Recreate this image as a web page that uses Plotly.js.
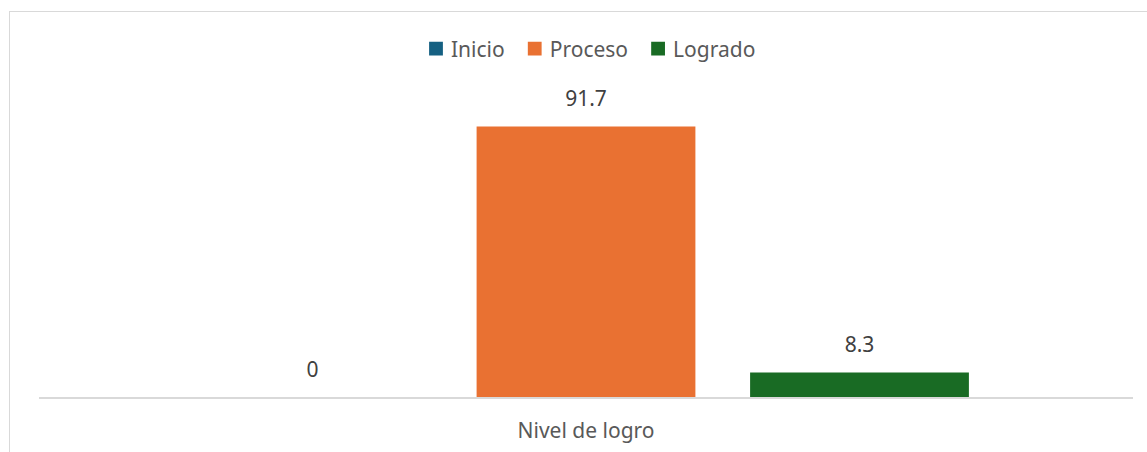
<!DOCTYPE html>
<html><head><meta charset="utf-8">
<script src="https://cdn.plot.ly/plotly-3.0.1.min.js"></script>
<style>
html,body{margin:0;padding:0;background:#fff;}
#wrap{position:relative;width:1147px;height:452px;overflow:hidden;}
#frame{position:absolute;left:9px;top:11px;width:1160px;height:470px;border:1px solid #d9d9d9;box-sizing:border-box;}
#chart{position:absolute;left:0;top:0;width:1147px;height:452px;}
</style></head>
<body><div id="wrap"><div id="frame"></div><div id="chart"></div></div>
<script>
const categories = ["Nivel de logro"];
const seriesNames = ["Inicio", "Proceso", "Logrado"];
const inicio = [0];
const proceso = [91.7];
const logrado = [8.3];
const colors = ["#156082", "#E97132", "#196B24"];
const values = [inicio, proceso, logrado];

const font = "Noto Sans, Open Sans, sans-serif";
const labelLift = 3.8; // extra gap (axis units) between bar end and its value label
const traces = [];
seriesNames.forEach((n, i) => {
  traces.push({
    type: "bar", name: n, x: categories, y: values[i], offsetgroup: "g" + i,
    marker: {color: colors[i]}, hoverinfo: "skip"
  });
});
seriesNames.forEach((n, i) => {
  traces.push({
    type: "bar", name: n + " label", x: categories, y: values[i], base: labelLift,
    offsetgroup: "g" + i, showlegend: false,
    marker: {color: "rgba(0,0,0,0)"},
    text: values[i].map(v => String(v)),
    textposition: "outside", cliponaxis: false,
    textfont: {family: font, size: 21, color: "#404040"},
    hoverinfo: "skip"
  });
});

const layout = {
  width: 1147, height: 452,
  margin: {l: 39, r: 14, t: 102, b: 55},
  paper_bgcolor: "rgba(0,0,0,0)", plot_bgcolor: "rgba(0,0,0,0)",
  barmode: "group", bargap: 0.25, bargroupgap: 0.2,
  showlegend: true,
  legend: {orientation: "h", x: 0.5, xanchor: "center", y: 1.18, yanchor: "middle",
    font: {family: font, size: 21, color: "#595959"}, traceorder: "normal", itemwidth: 30},
  xaxis: {showline: true, linecolor: "#d9d9d9", linewidth: 1.5, ticks: "",
    ticklabelstandoff: 14,
    tickfont: {family: font, size: 21, color: "#595959"}, fixedrange: true},
  yaxis: {range: [0, 100], visible: false, showgrid: false, zeroline: false, fixedrange: true},
  font: {family: font}
};
Plotly.newPlot("chart", traces, layout, {displayModeBar: false, staticPlot: true}).then(() => {
  document.querySelectorAll("#chart .legend .legendpoints path").forEach(p => {
    const t = p.getAttribute("transform") || "";
    p.setAttribute("transform", t + " translate(5,0) scale(1.15)");
  });
});
</script></body></html>
